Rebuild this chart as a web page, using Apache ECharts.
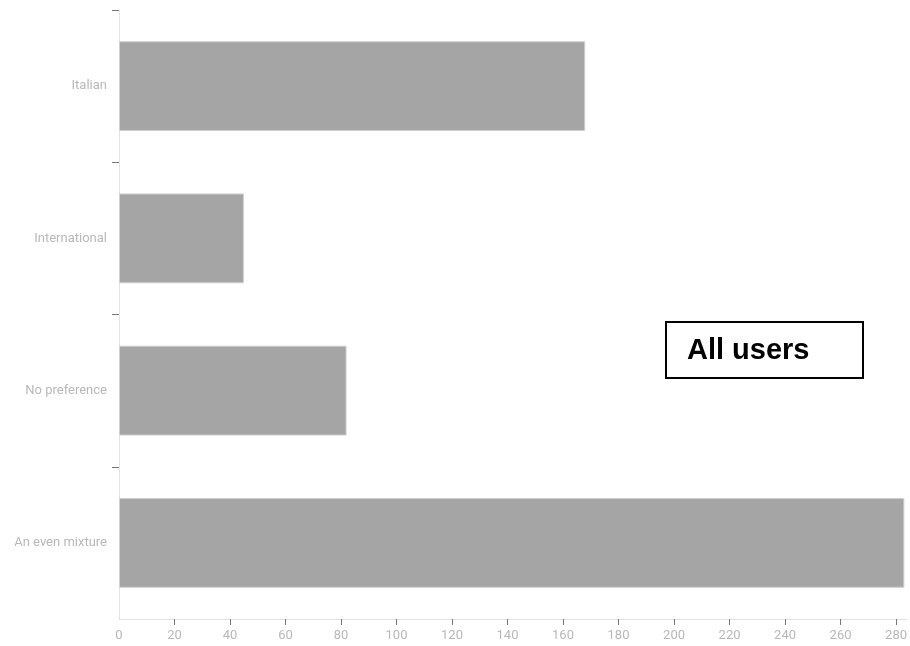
<!DOCTYPE html>
<html>
<head>
<meta charset="utf-8">
<script src="https://cdn.jsdelivr.net/npm/echarts@6/dist/echarts.min.js"></script>
<style>
html,body{margin:0;padding:0;background:#fff;}
#chart{width:910px;height:646px;}
</style>
</head>
<body>
<div id="chart"></div>
<script>
const categories = ["An even mixture", "No preference", "International", "Italian"];
const counts = [283, 82, 45, 168];
const xTickStep = 20;
const xMax = 284;
const xTickValues = [20, 40, 60, 80, 100, 120, 140, 160, 180, 200, 220, 240, 260, 280];
const xLabelValues = [0, 20, 40, 60, 80, 100, 120, 140, 160, 180, 200, 220, 240, 260, 280];
const boxLabel = "All users";

const chart = echarts.init(document.getElementById('chart'), null, {renderer: 'canvas'});
chart.setOption({
  animation: false,
  backgroundColor: '#ffffff',
  grid: {left: 119, right: 0, top: 10, bottom: 27, containLabel: false},
  xAxis: {
    type: 'value', min: 0, max: xMax, interval: xTickStep,
    axisLine: {show: true, lineStyle: {color: '#e3e3e3', width: 1}},
    axisTick: {show: true, length: 6, lineStyle: {color: '#777'}, customValues: xTickValues},
    splitLine: {show: false},
    axisLabel: {color: '#b8b8b8', fontSize: 13, fontFamily: 'Roboto', margin: 10,
      customValues: xLabelValues}
  },
  yAxis: {
    type: 'category', data: categories,
    axisLine: {show: true, lineStyle: {color: '#e3e3e3', width: 1}},
    axisTick: {show: true, length: 7, lineStyle: {color: '#777'},
      interval: function (idx) { return idx !== 0; }},
    axisLabel: {color: '#b8b8b8', fontSize: 13, fontFamily: 'Roboto', margin: 12}
  },
  series: [{
    type: 'bar', data: counts, barCategoryGap: '41%',
    itemStyle: {color: '#a5a5a5', borderColor: '#cfcfcf', borderWidth: 1}
  }],
  graphic: [{
    type: 'group', left: 665, top: 321,
    children: [
      {type: 'rect', shape: {x: 0, y: 0, width: 197, height: 56},
       style: {fill: '#fff', stroke: '#000', lineWidth: 2}},
      {type: 'text', x: 21, y: 29,
       style: {text: boxLabel, font: 'bold 29px "Liberation Sans", Arial, sans-serif',
               fill: '#000', verticalAlign: 'middle'}}
    ]
  }]
});
</script>
</body>
</html>
